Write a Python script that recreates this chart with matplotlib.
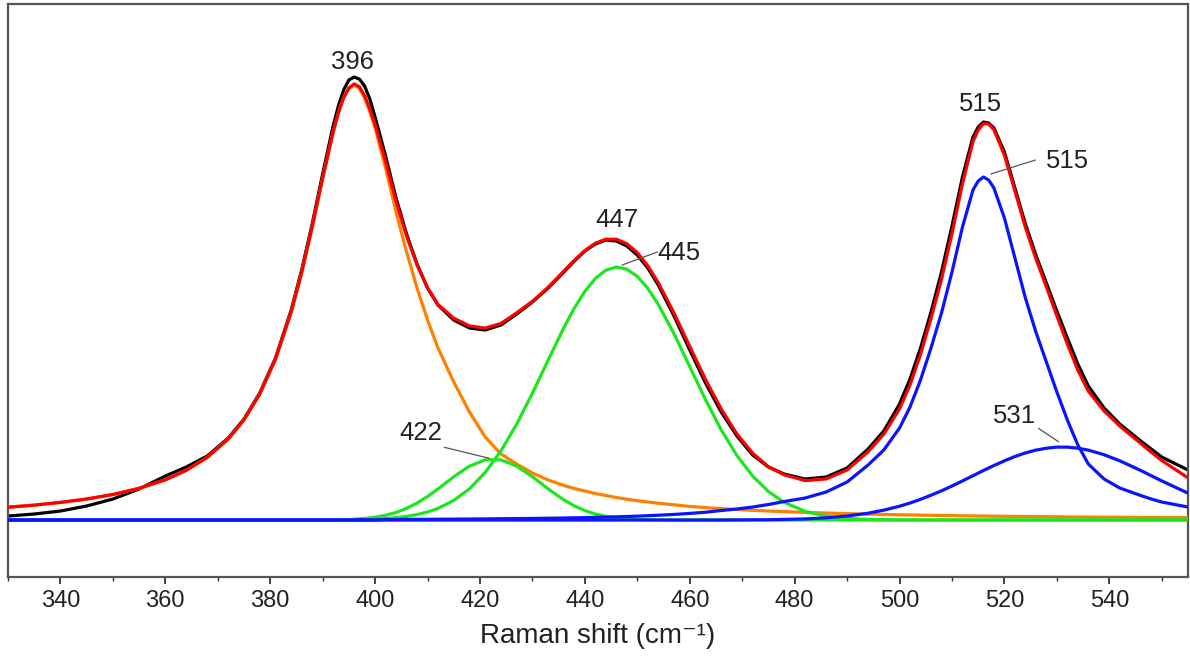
import matplotlib
matplotlib.use("Agg")
import matplotlib.pyplot as plt
from matplotlib.ticker import MultipleLocator

plt.rcParams['font.family'] = ['Liberation Sans', 'DejaVu Sans']

# Raman shift grid (cm^-1)
shift = [330, 335, 340, 345, 350, 355, 360, 364, 368, 372, 375, 378, 381, 384, 386,
         388, 390, 392, 393, 394, 395, 396, 397, 398, 399, 400, 402, 404, 406, 408,
         410, 412, 415, 418, 421, 424, 427, 430, 433, 436, 438, 440, 442, 444, 446,
         448, 450, 452, 454, 457, 460, 463, 466, 469, 472, 475, 478, 482, 486, 490,
         494, 497, 500, 502, 504, 506, 508, 510, 512, 514, 515, 516, 517, 518, 520,
         522, 524, 526, 528, 530, 532, 534, 536, 539, 542, 546, 548, 550, 555]

# measured spectrum (black)
measured = [4, 6, 9, 14, 21, 31, 44, 53, 64, 82, 101, 127, 162, 210, 250,
            296, 346, 394, 414, 430, 440, 443, 441, 434, 421, 403, 364, 322, 286, 256,
            232, 215, 200, 192, 190, 195, 206, 218, 232, 248, 259, 269, 276, 280, 279,
            274, 265, 252, 235, 204, 170, 137, 108, 84, 65, 53, 46, 41, 43, 52,
            71, 89, 116, 141, 172, 208, 248, 294, 343, 383, 393, 398, 397, 392, 368,
            332, 296, 265, 237, 209, 182, 156, 134, 112, 96, 79, 71, 63, 50]

# cumulative fit (red)
fit_sum = [12.8, 14.9, 17.6, 21.0, 25.5, 31.7, 40.2, 49.7, 62.7, 81.1, 100.2, 125.9, 160.8, 208.0, 247.5,
           293.0, 341.8, 388.0, 407.2, 422.4, 432.0, 436.1, 433.3, 424.4, 411.0, 395.7, 358.7, 318.4, 283.8, 255.1,
           232.2, 215.5, 201.8, 194.1, 191.9, 196.6, 207.2, 218.7, 232.8, 249.0, 259.8, 269.5, 276.8, 280.8, 280.8,
           276.3, 267.4, 254.2, 237.3, 207.0, 173.5, 140.6, 111.0, 86.0, 66.8, 53.3, 45.2, 39.4, 41.1, 50.0,
           68.3, 85.8, 111.1, 135.1, 165.6, 201.5, 240.7, 286.4, 336.3, 378.4, 389.9, 396.5, 395.9, 390.3, 364.9,
           329.1, 292.6, 261.3, 233.1, 204.1, 176.0, 149.8, 128.8, 109.1, 93.9, 76.5, 67.8, 59.5, 42.2]

# fitted components
peak_396 = [12.8, 14.9, 17.6, 21.0, 25.5, 31.7, 40.2, 49.7, 62.7, 81.1, 100.2, 125.9, 160.8, 208.0, 247.5,
            293.0, 341.8, 388.0, 407.2, 422.2, 431.7, 435, 431.7, 422.2, 408.2, 392, 352, 308, 268, 232,
            200, 172, 138, 108, 83, 66, 56, 47, 40, 34.5, 31.5, 29, 26.5, 24.5, 22.5,
            20.8, 19.3, 18, 16.8, 15.2, 13.6, 12.4, 11.4, 10.5, 9.7, 9.0, 8.4, 7.6, 7.0, 6.4,
            5.9, 5.6, 5.2, 5.1, 4.9, 4.7, 4.5, 4.4, 4.2, 4.1, 4.0, 4.0, 3.9, 3.8, 3.7,
            3.6, 3.5, 3.4, 3.3, 3.2, 3.1, 3.0, 2.9, 2.8, 2.7, 2.5, 2.5, 2.4, 2.3]

peak_422 = [0, 0, 0, 0, 0, 0, 0, 0, 0, 0, 0, 0, 0, 0, 0,
            0, 0, 0, 0, 0, 0, 0.8, 1.2, 1.6, 2.1, 2.8, 4.7, 7.6, 11.6, 17.0,
            23.5, 31.1, 43.3, 53.9, 60.2, 60.2, 53.9, 43.3, 31.1, 20.1, 14.1, 9.4, 6.0, 3.6, 2.1,
            1.2, 0.6, 0.3, 0.1, 0, 0, 0, 0, 0, 0, 0, 0, 0, 0, 0,
            0, 0, 0, 0, 0, 0, 0, 0, 0, 0, 0, 0, 0, 0, 0,
            0, 0, 0, 0, 0, 0, 0, 0, 0, 0, 0, 0, 0, 0]

peak_445 = [0, 0, 0, 0, 0, 0, 0, 0, 0, 0, 0, 0, 0, 0, 0,
            0, 0, 0, 0, 0.2, 0.25, 0.3, 0.4, 0.6, 0.7, 0.9, 1.5, 2.3, 3.6, 5.4,
            8.0, 11.6, 19.6, 31.2, 47.6, 69.1, 95.9, 126.8, 159.9, 192.4, 212, 228.7, 241.6, 249.8, 253,
            250.8, 243.6, 231.6, 215.6, 186.2, 153.3, 120.4, 90.1, 64.4, 43.9, 28.5, 17.7, 8.7, 3.9, 1.6,
            0.6, 0.3, 0.1, 0, 0, 0, 0, 0, 0, 0, 0, 0, 0, 0, 0,
            0, 0, 0, 0, 0, 0, 0, 0, 0, 0, 0, 0, 0, 0]

peak_515 = [0, 0, 0, 0, 0, 0, 0, 0, 0, 0, 0, 0, 0, 0, 0,
            0, 0, 0, 0, 0, 0, 0, 0, 0, 0, 0, 0.5, 0.5, 0.6, 0.7,
            0.7, 0.8, 0.9, 1.0, 1.1, 1.3, 1.4, 1.6, 1.8, 2.0, 2.2, 2.4, 2.7, 2.9, 3.2,
            3.5, 3.9, 4.3, 4.8, 5.6, 6.6, 7.8, 9.5, 11, 13, 15.5, 18.5, 22, 28, 38,
            55, 70, 92, 113, 140, 172, 207, 248, 293, 330, 339, 343, 340, 332, 302,
            262, 222, 188, 158, 128, 100, 75, 56, 41, 32, 24.5, 21, 18, 13]

peak_531 = [0, 0, 0, 0, 0, 0, 0, 0, 0, 0, 0, 0, 0, 0, 0,
            0, 0, 0, 0, 0, 0, 0, 0, 0, 0, 0, 0, 0, 0, 0,
            0, 0, 0, 0, 0, 0, 0, 0, 0, 0, 0, 0, 0, 0, 0,
            0, 0, 0, 0, 0, 0, 0, 0, 0.1, 0.2, 0.3, 0.6, 1.1, 2.2, 4.0,
            6.8, 9.9, 13.8, 17.0, 20.7, 24.8, 29.2, 34.0, 39.1, 44.3, 46.9, 49.5, 52.0, 54.5, 59.2,
            63.5, 67.1, 69.9, 71.8, 72.9, 72.9, 71.8, 69.9, 65.3, 59.2, 49.5, 44.3, 39.1, 26.9]

xticks = [340, 360, 380, 400, 420, 440, 460, 480, 500, 520, 540]

fig = plt.figure(figsize=(11.9, 6.59), dpi=100)
ax = fig.add_axes([0.0067, 0.1244, 0.9916, 0.8695])

lw = 2.3
kw = dict(lw=lw, solid_joinstyle='round', solid_capstyle='round')
ax.plot(shift, measured, color='black', zorder=2, **kw)
ax.plot(shift, peak_396, color='#ff7f00', zorder=3, **kw)
ax.plot(shift, peak_422, color='#1ee61e', zorder=4, **kw)
ax.plot(shift, peak_445, color='#1ee61e', zorder=4, **kw)
ax.plot(shift, peak_515, color='#0a14ff', zorder=5, **kw)
ax.plot(shift, peak_531, color='#0a14ff', zorder=5, **kw)
ax.plot(shift, fit_sum, color='#ff0000', zorder=6, **kw)

ax.set_xlim(330, 555)
ax.set_ylim(-57, 516)
ax.set_xticks(xticks)
ax.xaxis.set_minor_locator(MultipleLocator(10))
ax.set_yticks([])
ax.tick_params(axis='x', which='major', direction='out', length=5, width=1.2,
               labelsize=17, pad=4, colors='#222222')
ax.tick_params(axis='x', which='minor', direction='out', length=3, width=1.0, colors='#333333')
for s in ax.spines.values():
    s.set_color('#555555')
    s.set_linewidth(1.6)

ax.set_xlabel('Raman shift (cm\u207b\u00b9)', fontsize=20, color='#222222', labelpad=8)

fs = 18.5
tc = '#222222'
ax.text(395.7, 451, '396', fontsize=fs, ha='center', va='baseline', color=tc, zorder=8)
ax.text(446.1, 293, '447', fontsize=fs, ha='center', va='baseline', color=tc, zorder=8)
ax.text(457.9, 260, '445', fontsize=fs, ha='center', va='baseline', color=tc, zorder=8)
ax.text(408.7, 80, '422', fontsize=fs, ha='center', va='baseline', color=tc, zorder=8)
ax.text(515.5, 409, '515', fontsize=fs, ha='center', va='baseline', color=tc, zorder=8)
ax.text(532.1, 352, '515', fontsize=fs, ha='center', va='baseline', color=tc, zorder=8)
ax.text(522.0, 97, '531', fontsize=fs, ha='center', va='baseline', color=tc, zorder=8)

leader = dict(arrowstyle='-', color='#555555', lw=0.9, shrinkA=0, shrinkB=0)
ax.annotate('', xy=(447.1, 255), xytext=(453.8, 268), arrowprops=leader, zorder=8)
ax.annotate('', xy=(421.8, 61.7), xytext=(413.2, 72.7), arrowprops=leader, zorder=8)
ax.annotate('', xy=(517.4, 346), xytext=(525.9, 360), arrowprops=leader, zorder=8)
ax.annotate('', xy=(530.3, 78.3), xytext=(526.5, 91.7), arrowprops=leader, zorder=8)

fig.savefig('out.png', dpi=100)
